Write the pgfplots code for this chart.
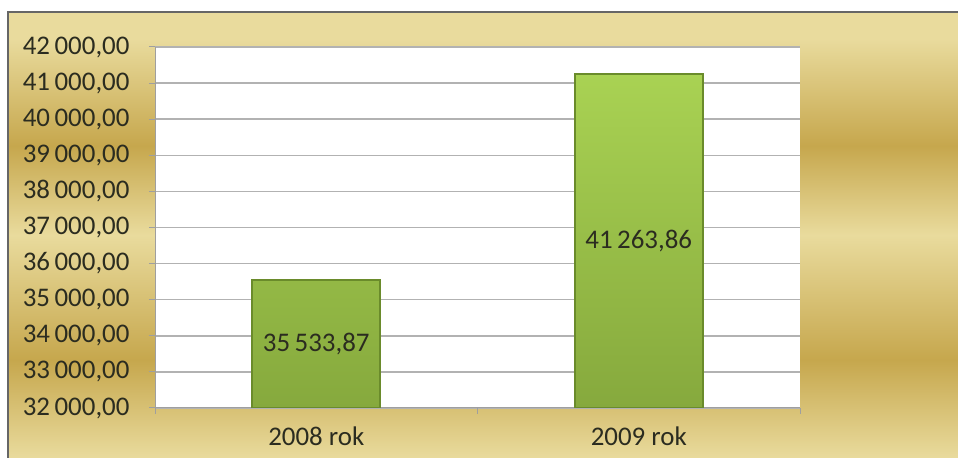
\documentclass[border=0pt]{standalone}
\usepackage{pgfplots}
\pgfplotsset{compat=1.18}
\usepackage{fontspec}
\setmainfont{Carlito}
\definecolor{goldLight}{HTML}{E9DB9D}
\definecolor{goldDark}{HTML}{C6A74D}
\definecolor{barTop}{HTML}{A9D253}
\definecolor{barBot}{HTML}{86A93D}
\definecolor{barEdge}{HTML}{6A8B2B}
\definecolor{txt}{HTML}{2B2C20}
% tikz stretches the 25bp..75bp band of the shading over the path
\pgfdeclareverticalshading{goldband}{100bp}{color(0bp)=(goldLight); color(25bp)=(goldLight); color(36bp)=(goldDark); color(50bp)=(goldLight); color(60bp)=(goldDark); color(72bp)=(goldLight); color(100bp)=(goldLight)}

\begin{document}
\begin{tikzpicture}
\fill[white] (0,0) rectangle (958bp,458bp);
\shade[shading=goldband] (8bp,0) rectangle (958bp,446bp);
\draw[gray!80!black, line width=1.5bp] (8bp,0) -- (8bp,446bp) -- (958bp,446bp);
\begin{axis}[
  at={(155bp,50bp)}, anchor=south west, scale only axis,
  width=645bp, height=361bp,
  xmin=-0.5, xmax=1.5, ymin=32000, ymax=42000,
  ytick={32000,33000,...,42000},
  xtick={-0.5,0.5,1.5}, xticklabels={},
  extra x ticks={0,1}, extra x tick labels={2008 rok,2009 rok},
  extra x tick style={major tick length=0pt, grid=none,
    xticklabel style={inner sep=0pt, yshift=-19bp}},
  axis lines*=left, axis line style={-, gray!75, line width=1bp},
  ymajorgrids, grid style={gray!60, line width=1.5bp},
  tick align=outside, major tick length=6bp,
  tick style={gray!75, line width=1bp},
  axis background/.style={fill=white},
  scaled y ticks=false,
  tick label style={font=\fontsize{27}{31}\selectfont, text=txt},
  yticklabel style={xshift=-16bp},
  /pgf/number format/fixed, /pgf/number format/fixed zerofill,
  /pgf/number format/precision=2, /pgf/number format/use comma,
  /pgf/number format/1000 sep={\,}, /pgf/number format/assume math mode=true,
]
\addplot[ybar, bar width=128bp, bar shift=0pt, draw=barEdge,
  line width=2bp, top color=barTop, bottom color=barBot]
  coordinates {(0,35533.87) (1,41263.86)};
\addplot[draw=none, mark=none, nodes near coords,
  point meta=explicit symbolic,
  every node near coord/.style={anchor=center,
    font=\fontsize{27}{31}\selectfont, text=txt}]
  coordinates {(0,33766.94) [35\,533,87] (1,36631.93) [41\,263,86]};
\end{axis}
\pgfresetboundingbox
\useasboundingbox (0,0) rectangle (958bp,458bp);
\end{tikzpicture}
\end{document}
